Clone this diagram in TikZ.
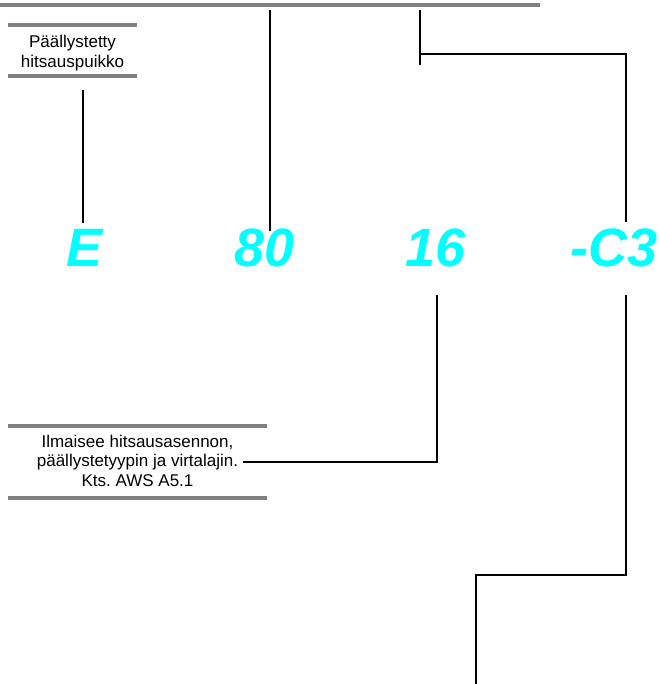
\documentclass[tikz,border=0pt]{standalone}
\usepackage{fontspec}
\setmainfont{Liberation Sans}
\frenchspacing
\definecolor{codecyan}{RGB}{0,255,255}
\definecolor{bargray}{RGB}{128,128,128}
\begin{document}
\begin{tikzpicture}[x=1pt,y=-1pt,
  bar/.style={draw=bargray,line width=4pt},
  lead/.style={draw=black,line width=2.2pt},
  label/.style={align=center,font=\fontsize{17}{19.5}\selectfont,inner sep=0pt},
  code/.style={text=codecyan,font=\fontsize{54}{54}\selectfont\bfseries\itshape,inner sep=0pt,anchor=base}]
\useasboundingbox (0,0) rectangle (658,684);

% top rule
\draw[bar] (0,5) -- (540,5);

% label: coated electrode
\draw[bar] (8,25) -- (137,25);
\node[label] (lblE) at (72.5,53) {Päällystetty\\hitsauspuikko};
\draw[bar] (8,76) -- (137,76);

% code characters
\node[code] (cE)  at (85,266)  {E};
\node[code] (c80) at (265,266) {80};
\node[code] (c16) at (436,266) {16};
\node[code] (cC3) at (614,266) {-C3};

% label: position, coating and current
\draw[bar] (8,426) -- (267,426);
\node[label] (lbl16) at (137.5,460.5) {Ilmaisee hitsausasennon,\\päällystetyypin ja virtalajin.\\Kts. AWS A5.1};
\draw[bar] (8,498) -- (267,498);

% leader end points
\coordinate (eTop) at (83,90);
\coordinate (eBot) at (83,223);
\coordinate (t80) at (270,10);
\coordinate (b80) at (270,231);
\coordinate (tFork) at (420,10);
\coordinate (bFork) at (420,65);
\coordinate (kFork) at (420,54);
\coordinate (cKnee) at (626,54);
\coordinate (cTop) at (626,222);
\coordinate (s16) at (437,295);
\coordinate (k16) at (437,462);
\coordinate (e16) at (243,462);
\coordinate (sC3) at (626,295);
\coordinate (kC3) at (626,575);
\coordinate (kLow) at (476,575);
\coordinate (eLow) at (476,684);

% leaders
\draw[lead] (eTop) -- (eBot);
\draw[lead] (t80) -- (b80);
\draw[lead] (tFork) -- (bFork);
\draw[lead,line join=miter] (kFork) -- (cKnee) -- (cTop);
\draw[lead,line join=miter] (s16) -- (k16) -- (e16);
\draw[lead,line join=miter] (sC3) -- (kC3) -- (kLow) -- (eLow);
\end{tikzpicture}
\end{document}
